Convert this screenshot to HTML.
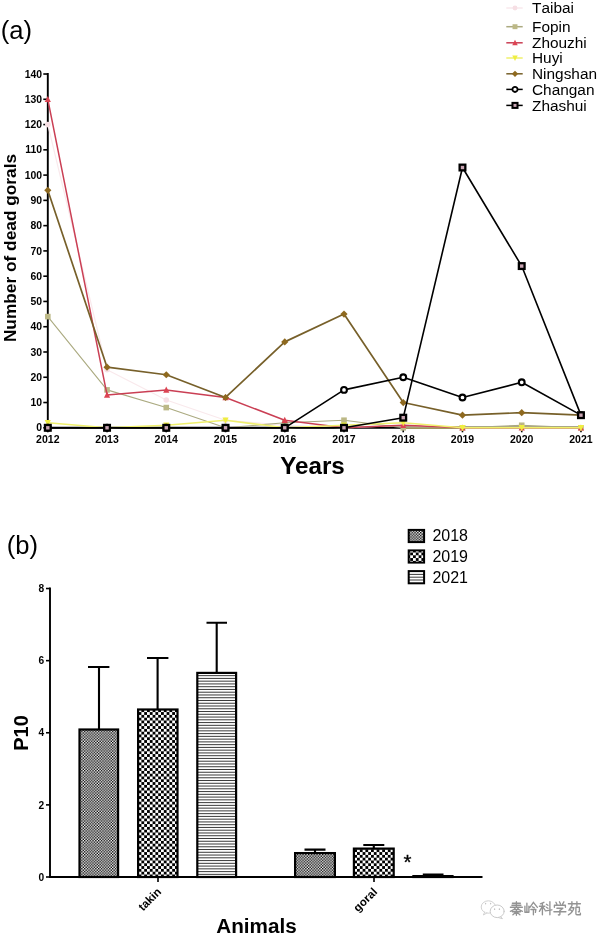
<!DOCTYPE html>
<html><head><meta charset="utf-8"><title>Figure</title>
<style>
html,body{margin:0;padding:0;background:#fff;}
body{width:600px;height:935px;overflow:hidden;font-family:"Liberation Sans",sans-serif;}
svg{display:block;will-change:transform;}
text{font-family:"Liberation Sans",sans-serif;fill:#000;}
.b{font-weight:bold;}
</style></head><body>
<svg width="600" height="935" viewBox="0 0 600 935">
<defs>
<pattern id="p18" width="2.8" height="2.8" patternUnits="userSpaceOnUse"><rect width="2.8" height="2.8" fill="#fff"/><rect width="1.4" height="1.4" fill="#000"/><rect x="1.4" y="1.4" width="1.4" height="1.4" fill="#000"/></pattern>
<pattern id="p19" x="4.2" y="0.9" width="5.6" height="5.6" patternUnits="userSpaceOnUse"><rect width="5.6" height="5.6" fill="#fff"/><rect width="2.8" height="2.8" fill="#000"/><rect x="2.8" y="2.8" width="2.8" height="2.8" fill="#000"/></pattern>
<pattern id="p21" y="0.2" width="4" height="2.76" patternUnits="userSpaceOnUse"><rect width="4" height="2.76" fill="#fff"/><rect width="4" height="1.05" fill="#000"/></pattern>
</defs>
<rect width="600" height="935" fill="#fff"/>

<text x="0.8" y="39.3" font-size="25.6">(a)</text>
<path d="M47.8 73V427.8H582" stroke="#000" stroke-width="1.9" fill="none"/>
<path d="M43.3 427.8H47.8" stroke="#000" stroke-width="1.6"/>
<text class="b" x="42.1" y="431.4" font-size="10.4" text-anchor="end">0</text>
<path d="M43.3 402.53H47.8" stroke="#000" stroke-width="1.6"/>
<text class="b" x="42.1" y="406.13" font-size="10.4" text-anchor="end">10</text>
<path d="M43.3 377.26H47.8" stroke="#000" stroke-width="1.6"/>
<text class="b" x="42.1" y="380.86" font-size="10.4" text-anchor="end">20</text>
<path d="M43.3 351.99H47.8" stroke="#000" stroke-width="1.6"/>
<text class="b" x="42.1" y="355.59" font-size="10.4" text-anchor="end">30</text>
<path d="M43.3 326.72H47.8" stroke="#000" stroke-width="1.6"/>
<text class="b" x="42.1" y="330.32" font-size="10.4" text-anchor="end">40</text>
<path d="M43.3 301.45H47.8" stroke="#000" stroke-width="1.6"/>
<text class="b" x="42.1" y="305.05" font-size="10.4" text-anchor="end">50</text>
<path d="M43.3 276.18H47.8" stroke="#000" stroke-width="1.6"/>
<text class="b" x="42.1" y="279.78" font-size="10.4" text-anchor="end">60</text>
<path d="M43.3 250.91H47.8" stroke="#000" stroke-width="1.6"/>
<text class="b" x="42.1" y="254.51" font-size="10.4" text-anchor="end">70</text>
<path d="M43.3 225.64H47.8" stroke="#000" stroke-width="1.6"/>
<text class="b" x="42.1" y="229.24" font-size="10.4" text-anchor="end">80</text>
<path d="M43.3 200.37H47.8" stroke="#000" stroke-width="1.6"/>
<text class="b" x="42.1" y="203.97" font-size="10.4" text-anchor="end">90</text>
<path d="M43.3 175.1H47.8" stroke="#000" stroke-width="1.6"/>
<text class="b" x="42.1" y="178.7" font-size="10.4" text-anchor="end">100</text>
<path d="M43.3 149.83H47.8" stroke="#000" stroke-width="1.6"/>
<text class="b" x="42.1" y="153.43" font-size="10.4" text-anchor="end">110</text>
<path d="M43.3 124.56H47.8" stroke="#000" stroke-width="1.6"/>
<text class="b" x="42.1" y="128.16" font-size="10.4" text-anchor="end">120</text>
<path d="M43.3 99.29H47.8" stroke="#000" stroke-width="1.6"/>
<text class="b" x="42.1" y="102.89" font-size="10.4" text-anchor="end">130</text>
<path d="M43.3 74.02H47.8" stroke="#000" stroke-width="1.6"/>
<text class="b" x="42.1" y="77.62" font-size="10.4" text-anchor="end">140</text>
<path d="M47.8 427.8V432.3" stroke="#000" stroke-width="1.6"/>
<text class="b" x="47.8" y="443" font-size="10.5" text-anchor="middle">2012</text>
<path d="M107.04 427.8V432.3" stroke="#000" stroke-width="1.6"/>
<text class="b" x="107.04" y="443" font-size="10.5" text-anchor="middle">2013</text>
<path d="M166.28 427.8V432.3" stroke="#000" stroke-width="1.6"/>
<text class="b" x="166.28" y="443" font-size="10.5" text-anchor="middle">2014</text>
<path d="M225.52 427.8V432.3" stroke="#000" stroke-width="1.6"/>
<text class="b" x="225.52" y="443" font-size="10.5" text-anchor="middle">2015</text>
<path d="M284.76 427.8V432.3" stroke="#000" stroke-width="1.6"/>
<text class="b" x="284.76" y="443" font-size="10.5" text-anchor="middle">2016</text>
<path d="M344 427.8V432.3" stroke="#000" stroke-width="1.6"/>
<text class="b" x="344" y="443" font-size="10.5" text-anchor="middle">2017</text>
<path d="M403.24 427.8V432.3" stroke="#000" stroke-width="1.6"/>
<text class="b" x="403.24" y="443" font-size="10.5" text-anchor="middle">2018</text>
<path d="M462.48 427.8V432.3" stroke="#000" stroke-width="1.6"/>
<text class="b" x="462.48" y="443" font-size="10.5" text-anchor="middle">2019</text>
<path d="M521.72 427.8V432.3" stroke="#000" stroke-width="1.6"/>
<text class="b" x="521.72" y="443" font-size="10.5" text-anchor="middle">2020</text>
<path d="M580.96 427.8V432.3" stroke="#000" stroke-width="1.6"/>
<text class="b" x="580.96" y="443" font-size="10.5" text-anchor="middle">2021</text>
<text class="b" transform="translate(16.4,248) rotate(-90)" font-size="17.3" text-anchor="middle">Number of dead gorals</text>
<text class="b" x="312.5" y="474.3" font-size="24.2" text-anchor="middle">Years</text>
<path d="M403.24 427.8H582" stroke="#9c8f50" stroke-width="2.4"/>
<polyline points="47.8,124.56 107.04,369.68 166.28,400 225.52,420.22 284.76,425.27 344,427.8 403.24,425.27 462.48,427.8 521.72,427.8 580.96,427.8" fill="none" stroke="#f9e9ec" stroke-width="1.2" stroke-linejoin="round"/>
<circle cx="47.8" cy="124.56" r="2.8" fill="#f6dfe4"/>
<circle cx="107.04" cy="369.68" r="2.8" fill="#f6dfe4"/>
<circle cx="166.28" cy="400" r="2.8" fill="#f6dfe4"/>
<circle cx="225.52" cy="420.22" r="2.8" fill="#f6dfe4"/>
<circle cx="284.76" cy="425.27" r="2.8" fill="#f6dfe4"/>
<circle cx="344" cy="427.8" r="2.8" fill="#f6dfe4"/>
<circle cx="403.24" cy="425.27" r="2.8" fill="#f6dfe4"/>
<circle cx="462.48" cy="427.8" r="2.8" fill="#f6dfe4"/>
<circle cx="521.72" cy="427.8" r="2.8" fill="#f6dfe4"/>
<circle cx="580.96" cy="427.8" r="2.8" fill="#f6dfe4"/>
<polyline points="47.8,316.61 107.04,389.89 166.28,407.58 225.52,427.8 284.76,422.75 344,420.22 403.24,427.8 462.48,427.8 521.72,425.27 580.96,427.8" fill="none" stroke="#abaa80" stroke-width="1.1" stroke-linejoin="round"/>
<rect x="45" y="313.81" width="5.6" height="5.6" fill="#bcb886"/>
<rect x="104.24" y="387.09" width="5.6" height="5.6" fill="#bcb886"/>
<rect x="163.48" y="404.78" width="5.6" height="5.6" fill="#bcb886"/>
<rect x="222.72" y="425" width="5.6" height="5.6" fill="#bcb886"/>
<rect x="281.96" y="419.95" width="5.6" height="5.6" fill="#bcb886"/>
<rect x="341.2" y="417.42" width="5.6" height="5.6" fill="#bcb886"/>
<rect x="400.44" y="425" width="5.6" height="5.6" fill="#bcb886"/>
<rect x="459.68" y="425" width="5.6" height="5.6" fill="#bcb886"/>
<rect x="518.92" y="422.47" width="5.6" height="5.6" fill="#bcb886"/>
<rect x="578.16" y="425" width="5.6" height="5.6" fill="#bcb886"/>
<polyline points="47.8,99.29 107.04,394.95 166.28,389.89 225.52,397.48 284.76,420.22 344,427.8 403.24,425.27 462.48,427.8 521.72,427.8 580.96,427.8" fill="none" stroke="#ca3f54" stroke-width="1.5" stroke-linejoin="round"/>
<path d="M47.8 95.89L50.9 102.09L44.7 102.09Z" fill="#dc4452"/>
<path d="M107.04 391.55L110.14 397.75L103.94 397.75Z" fill="#dc4452"/>
<path d="M166.28 386.49L169.38 392.69L163.18 392.69Z" fill="#dc4452"/>
<path d="M225.52 394.08L228.62 400.28L222.42 400.28Z" fill="#dc4452"/>
<path d="M284.76 416.82L287.86 423.02L281.66 423.02Z" fill="#dc4452"/>
<path d="M344 424.4L347.1 430.6L340.9 430.6Z" fill="#dc4452"/>
<path d="M403.24 421.87L406.34 428.07L400.14 428.07Z" fill="#dc4452"/>
<path d="M462.48 424.4L465.58 430.6L459.38 430.6Z" fill="#dc4452"/>
<path d="M521.72 424.4L524.82 430.6L518.62 430.6Z" fill="#dc4452"/>
<path d="M580.96 424.4L584.06 430.6L577.86 430.6Z" fill="#dc4452"/>
<polyline points="47.8,422.75 107.04,427.8 166.28,425.27 225.52,420.22 284.76,427.8 344,425.27 403.24,422.75 462.48,427.8 521.72,427.8 580.96,427.8" fill="none" stroke="#eff06c" stroke-width="1.5" stroke-linejoin="round"/>
<path d="M47.8 426.15L50.9 419.95L44.7 419.95Z" fill="#efee40"/>
<path d="M107.04 431.2L110.14 425L103.94 425Z" fill="#efee40"/>
<path d="M166.28 428.67L169.38 422.47L163.18 422.47Z" fill="#efee40"/>
<path d="M225.52 423.62L228.62 417.42L222.42 417.42Z" fill="#efee40"/>
<path d="M284.76 431.2L287.86 425L281.66 425Z" fill="#efee40"/>
<path d="M344 428.67L347.1 422.47L340.9 422.47Z" fill="#efee40"/>
<path d="M403.24 426.15L406.34 419.95L400.14 419.95Z" fill="#efee40"/>
<path d="M462.48 431.2L465.58 425L459.38 425Z" fill="#efee40"/>
<path d="M521.72 431.2L524.82 425L518.62 425Z" fill="#efee40"/>
<path d="M580.96 431.2L584.06 425L577.86 425Z" fill="#efee40"/>
<polyline points="47.8,190.26 107.04,367.15 166.28,374.73 225.52,397.48 284.76,341.88 344,314.09 403.24,402.53 462.48,415.17 521.72,412.64 580.96,415.17" fill="none" stroke="#77602a" stroke-width="1.7" stroke-linejoin="round"/>
<path d="M47.8 186.66L51.4 190.26L47.8 193.86L44.2 190.26Z" fill="#8e691f"/>
<path d="M107.04 363.55L110.64 367.15L107.04 370.75L103.44 367.15Z" fill="#8e691f"/>
<path d="M166.28 371.13L169.88 374.73L166.28 378.33L162.68 374.73Z" fill="#8e691f"/>
<path d="M225.52 393.88L229.12 397.48L225.52 401.08L221.92 397.48Z" fill="#8e691f"/>
<path d="M284.76 338.28L288.36 341.88L284.76 345.48L281.16 341.88Z" fill="#8e691f"/>
<path d="M344 310.49L347.6 314.09L344 317.69L340.4 314.09Z" fill="#8e691f"/>
<path d="M403.24 398.93L406.84 402.53L403.24 406.13L399.64 402.53Z" fill="#8e691f"/>
<path d="M462.48 411.57L466.08 415.17L462.48 418.77L458.88 415.17Z" fill="#8e691f"/>
<path d="M521.72 409.04L525.32 412.64L521.72 416.24L518.12 412.64Z" fill="#8e691f"/>
<path d="M580.96 411.57L584.56 415.17L580.96 418.77L577.36 415.17Z" fill="#8e691f"/>
<polyline points="47.8,427.8 107.04,427.8 166.28,427.8 225.52,427.8 284.76,427.8 344,389.89 403.24,377.26 462.48,397.48 521.72,382.31 580.96,415.17" fill="none" stroke="#000" stroke-width="1.6" stroke-linejoin="round"/>
<circle cx="47.8" cy="427.8" r="2.9" fill="#fff" stroke="#000" stroke-width="2.1"/>
<circle cx="107.04" cy="427.8" r="2.9" fill="#fff" stroke="#000" stroke-width="2.1"/>
<circle cx="166.28" cy="427.8" r="2.9" fill="#fff" stroke="#000" stroke-width="2.1"/>
<circle cx="225.52" cy="427.8" r="2.9" fill="#fff" stroke="#000" stroke-width="2.1"/>
<circle cx="284.76" cy="427.8" r="2.9" fill="#fff" stroke="#000" stroke-width="2.1"/>
<circle cx="344" cy="389.89" r="2.9" fill="#fff" stroke="#000" stroke-width="2.1"/>
<circle cx="403.24" cy="377.26" r="2.9" fill="#fff" stroke="#000" stroke-width="2.1"/>
<circle cx="462.48" cy="397.48" r="2.9" fill="#fff" stroke="#000" stroke-width="2.1"/>
<circle cx="521.72" cy="382.31" r="2.9" fill="#fff" stroke="#000" stroke-width="2.1"/>
<circle cx="580.96" cy="415.17" r="2.9" fill="#fff" stroke="#000" stroke-width="2.1"/>
<polyline points="47.8,427.8 107.04,427.8 166.28,427.8 225.52,427.8 284.76,427.8 344,427.8 403.24,417.69 462.48,167.52 521.72,266.07 580.96,415.17" fill="none" stroke="#000" stroke-width="1.6" stroke-linejoin="round"/>
<rect x="44.95" y="424.95" width="5.7" height="5.7" fill="#c9a5b3" stroke="#000" stroke-width="2.3"/>
<rect x="104.19" y="424.95" width="5.7" height="5.7" fill="#c9a5b3" stroke="#000" stroke-width="2.3"/>
<rect x="163.43" y="424.95" width="5.7" height="5.7" fill="#c9a5b3" stroke="#000" stroke-width="2.3"/>
<rect x="222.67" y="424.95" width="5.7" height="5.7" fill="#c9a5b3" stroke="#000" stroke-width="2.3"/>
<rect x="281.91" y="424.95" width="5.7" height="5.7" fill="#c9a5b3" stroke="#000" stroke-width="2.3"/>
<rect x="341.15" y="424.95" width="5.7" height="5.7" fill="#c9a5b3" stroke="#000" stroke-width="2.3"/>
<rect x="400.39" y="414.84" width="5.7" height="5.7" fill="#c9a5b3" stroke="#000" stroke-width="2.3"/>
<rect x="459.63" y="164.67" width="5.7" height="5.7" fill="#c9a5b3" stroke="#000" stroke-width="2.3"/>
<rect x="518.87" y="263.22" width="5.7" height="5.7" fill="#c9a5b3" stroke="#000" stroke-width="2.3"/>
<rect x="578.11" y="412.32" width="5.7" height="5.7" fill="#c9a5b3" stroke="#000" stroke-width="2.3"/>
<path d="M506.3 8H522.7" stroke="#f9e9ec" stroke-width="1.5"/>
<g transform="translate(515,8) scale(0.88)"><circle cx="0" cy="0" r="2.8" fill="#f6dfe4"/></g>
<text x="532" y="13.4" font-size="15.4" style="font-kerning:none">Taibai</text>
<path d="M506.3 26.7H522.7" stroke="#abaa80" stroke-width="1.5"/>
<g transform="translate(515,26.7) scale(0.88)"><rect x="-2.8" y="-2.8" width="5.6" height="5.6" fill="#bcb886"/></g>
<text x="532" y="32.1" font-size="15.4" style="font-kerning:none">Fopin</text>
<path d="M506.3 42.8H522.7" stroke="#ca3f54" stroke-width="1.5"/>
<g transform="translate(515,42.8) scale(0.88)"><path d="M0 -3.4L3.1 2.8L-3.1 2.8Z" fill="#dc4452"/></g>
<text x="532" y="48.2" font-size="15.4" style="font-kerning:none">Zhouzhi</text>
<path d="M506.3 58H522.7" stroke="#eff06c" stroke-width="1.5"/>
<g transform="translate(515,58) scale(0.88)"><path d="M0 3.4L3.1 -2.8L-3.1 -2.8Z" fill="#efee40"/></g>
<text x="532" y="63.4" font-size="15.4" style="font-kerning:none">Huyi</text>
<path d="M506.3 73.8H522.7" stroke="#77602a" stroke-width="1.5"/>
<g transform="translate(515,73.8) scale(0.88)"><path d="M0 -3.6L3.6 0L0 3.6L-3.6 0Z" fill="#8e691f"/></g>
<text x="532" y="79.2" font-size="15.4" style="font-kerning:none">Ningshan</text>
<path d="M506.3 89.4H522.7" stroke="#000" stroke-width="1.5"/>
<g transform="translate(515,89.4) scale(0.88)"><circle cx="0" cy="0" r="2.9" fill="#fff" stroke="#000" stroke-width="2.1"/></g>
<text x="532" y="94.8" font-size="15.4" style="font-kerning:none">Changan</text>
<path d="M506.3 105.4H522.7" stroke="#000" stroke-width="1.5"/>
<g transform="translate(515,105.4) scale(0.88)"><rect x="-2.85" y="-2.85" width="5.7" height="5.7" fill="#c9a5b3" stroke="#000" stroke-width="2.3"/></g>
<text x="532" y="110.8" font-size="15.4" style="font-kerning:none">Zhashui</text>
<text x="6.8" y="553.8" font-size="25.6">(b)</text>
<path d="M50 587.5V877H482.5" stroke="#000" stroke-width="1.9" fill="none"/>
<path d="M46 877H50" stroke="#000" stroke-width="1.6"/>
<text class="b" x="44.2" y="880.7" font-size="10.2" text-anchor="end">0</text>
<path d="M46 804.88H50" stroke="#000" stroke-width="1.6"/>
<text class="b" x="44.2" y="808.58" font-size="10.2" text-anchor="end">2</text>
<path d="M46 732.76H50" stroke="#000" stroke-width="1.6"/>
<text class="b" x="44.2" y="736.46" font-size="10.2" text-anchor="end">4</text>
<path d="M46 660.64H50" stroke="#000" stroke-width="1.6"/>
<text class="b" x="44.2" y="664.34" font-size="10.2" text-anchor="end">6</text>
<path d="M46 588.52H50" stroke="#000" stroke-width="1.6"/>
<text class="b" x="44.2" y="592.22" font-size="10.2" text-anchor="end">8</text>
<text class="b" transform="translate(28.1,733) rotate(-90)" font-size="20" text-anchor="middle">P10</text>
<path d="M99 729.4V667M88 667H109.4" stroke="#000" stroke-width="2.1" fill="none"/>
<rect x="79.5" y="729.5" width="38.6" height="147.5" fill="url(#p18)" stroke="#000" stroke-width="2.2"/>
<path d="M157.6 709.4V658M147 658H168.4" stroke="#000" stroke-width="2.1" fill="none"/>
<rect x="138.1" y="709.5" width="39.4" height="167.5" fill="url(#p19)" stroke="#000" stroke-width="2.2"/>
<path d="M216.7 672.8V622.7M206.5 622.7H227" stroke="#000" stroke-width="2.1" fill="none"/>
<rect x="197.3" y="672.9" width="38.8" height="204.1" fill="#fff"/>
<path d="M197.2 675.65H236.2M197.2 678.41H236.2M197.2 681.17H236.2M197.2 683.93H236.2M197.2 686.69H236.2M197.2 689.45H236.2M197.2 692.21H236.2M197.2 694.97H236.2M197.2 697.73H236.2M197.2 700.49H236.2M197.2 703.25H236.2M197.2 706.01H236.2M197.2 708.77H236.2M197.2 711.53H236.2M197.2 714.29H236.2M197.2 717.05H236.2M197.2 719.81H236.2M197.2 722.57H236.2M197.2 725.33H236.2M197.2 728.09H236.2M197.2 730.85H236.2M197.2 733.61H236.2M197.2 736.37H236.2M197.2 739.13H236.2M197.2 741.89H236.2M197.2 744.65H236.2M197.2 747.41H236.2M197.2 750.17H236.2M197.2 752.93H236.2M197.2 755.69H236.2M197.2 758.45H236.2M197.2 761.21H236.2M197.2 763.97H236.2M197.2 766.73H236.2M197.2 769.49H236.2M197.2 772.25H236.2M197.2 775.01H236.2M197.2 777.77H236.2M197.2 780.53H236.2M197.2 783.29H236.2M197.2 786.05H236.2M197.2 788.81H236.2M197.2 791.57H236.2M197.2 794.33H236.2M197.2 797.09H236.2M197.2 799.85H236.2M197.2 802.61H236.2M197.2 805.37H236.2M197.2 808.13H236.2M197.2 810.89H236.2M197.2 813.65H236.2M197.2 816.41H236.2M197.2 819.17H236.2M197.2 821.93H236.2M197.2 824.69H236.2M197.2 827.45H236.2M197.2 830.21H236.2M197.2 832.97H236.2M197.2 835.73H236.2M197.2 838.49H236.2M197.2 841.25H236.2M197.2 844.01H236.2M197.2 846.77H236.2M197.2 849.53H236.2M197.2 852.29H236.2M197.2 855.05H236.2M197.2 857.81H236.2M197.2 860.57H236.2M197.2 863.33H236.2M197.2 866.09H236.2M197.2 868.85H236.2M197.2 871.61H236.2M197.2 874.37H236.2" stroke="#000" stroke-width="0.78" fill="none"/>
<rect x="197.3" y="672.9" width="38.8" height="204.1" fill="none" stroke="#000" stroke-width="2.2"/>
<path d="M315 853V849.6M304.5 849.6H325.5" stroke="#000" stroke-width="2.1" fill="none"/>
<rect x="295.1" y="853.1" width="39.8" height="23.9" fill="url(#p18)" stroke="#000" stroke-width="2.2"/>
<path d="M373.8 848.5V845M363.3 845H384.3" stroke="#000" stroke-width="2.1" fill="none"/>
<rect x="353.9" y="848.6" width="39.8" height="28.4" fill="url(#p19)" stroke="#000" stroke-width="2.2"/>
<path d="M433 876V874.6M422.8 874.6H443.5" stroke="#000" stroke-width="2.1" fill="none"/>
<rect x="413.4" y="876.1" width="39.1" height="0.9" fill="#fff"/>
<path d="" stroke="#000" stroke-width="0.78" fill="none"/>
<rect x="413.4" y="876.1" width="39.1" height="0.9" fill="none" stroke="#000" stroke-width="2.2"/>
<path d="M158 877V882M374 877V882" stroke="#000" stroke-width="1.6"/>
<text class="b" transform="translate(162,892.6) rotate(-45)" font-size="11.5" text-anchor="end">takin</text>
<text class="b" transform="translate(378,892.6) rotate(-45)" font-size="11.5" text-anchor="end">goral</text>
<text class="b" x="256.5" y="932.7" font-size="20.7" text-anchor="middle">Animals</text>
<text x="407.6" y="868.8" font-size="20.5" text-anchor="middle" stroke="#000" stroke-width="0.3">*</text>
<rect x="408.7" y="529.9" width="15.4" height="12.2" fill="url(#p18)" stroke="#000" stroke-width="2"/>
<text x="432.4" y="541.3" font-size="16">2018</text>
<rect x="408.7" y="550.4" width="15.4" height="12.2" fill="url(#p19)" stroke="#000" stroke-width="2"/>
<text x="432.4" y="561.8" font-size="16">2019</text>
<rect x="408.7" y="571.1" width="15.4" height="12.2" fill="#fff"/>
<path d="M408.7 574.4H424.1M408.7 577.2H424.1M408.7 580H424.1" stroke="#000" stroke-width="0.78" fill="none"/>
<rect x="408.7" y="571.1" width="15.4" height="12.2" fill="none" stroke="#000" stroke-width="2"/>
<text x="432.4" y="582.5" font-size="16">2021</text>
<g fill="none" stroke="#a9a9a9" stroke-width="1" stroke-linecap="round" stroke-linejoin="round">
<ellipse cx="488.4" cy="907" rx="7.2" ry="6.2" fill="#fff" stroke="#d2d2d2"/>
<path d="M484.6 912.2L483.4 915L486.8 913" stroke="#d2d2d2" fill="#fff"/>
<ellipse cx="497.2" cy="911.3" rx="7" ry="6.3" fill="#fff" stroke="#cacaca"/>
<path d="M500.6 916.8L502.4 918.6L498.6 917.6" stroke="#cacaca" fill="#fff"/>
<path d="M485.6 903.4v.4M490.6 903.4v.4M494.6 909v.4M499.4 909v.4" stroke="#c4c4c4" stroke-width="1.3"/>
<g transform="translate(509.4,901.3)" stroke="#939393" stroke-width="1.35">
<path d="M3 2H11M2.5 4H11.5M1 6H13M7 .5V6M6.5 6Q5 8.5 1 10M7.5 6Q9 8.5 13 10M4.5 8.3H9.5M3 10.5H11M7 8.3V14M7 10.5L3.5 13.5M7 10.5L10.5 13.5"/>
<g transform="translate(14.5,0)"><path d="M1 5V11H5V5M3 2V11M9.5 1L6 6M9.5 1L13.5 6M8.5 5.5L10.5 6.5M7 8.2H12L11.5 11M9.5 8.2V13.5"/></g>
<g transform="translate(29,0)"><path d="M5.5 1L2 2.5M1 5H6.5M4 2V13.5M4 5L1 10M4 5L6.5 8.5M8 3L9.5 4M8 6L9.5 7M7 9.5L13.5 8.5M11.5 .5V13.5"/></g>
<g transform="translate(43.5,0)"><path d="M3 1L4 3M6.5 .5L7.5 2.5M11 .5L9.5 3M1.5 6V4H12.5V6M4 7H10L7.5 9M7 9V13Q7 14 5.5 13.5M1 10.5H13"/></g>
<g transform="translate(58,0)"><path d="M1 2.5H13M4.5 .5V4.5M9.5 .5V4.5M4 5L1.5 9M3.5 6.5H6.5Q5.5 11 1 13.5M3 8.5L4.5 10M8.5 6H12V10Q12 10.8 11 10.5M8.5 6V12.5Q8.5 13.5 9.5 13.5H13V12"/></g>
</g></g>
</svg></body></html>
